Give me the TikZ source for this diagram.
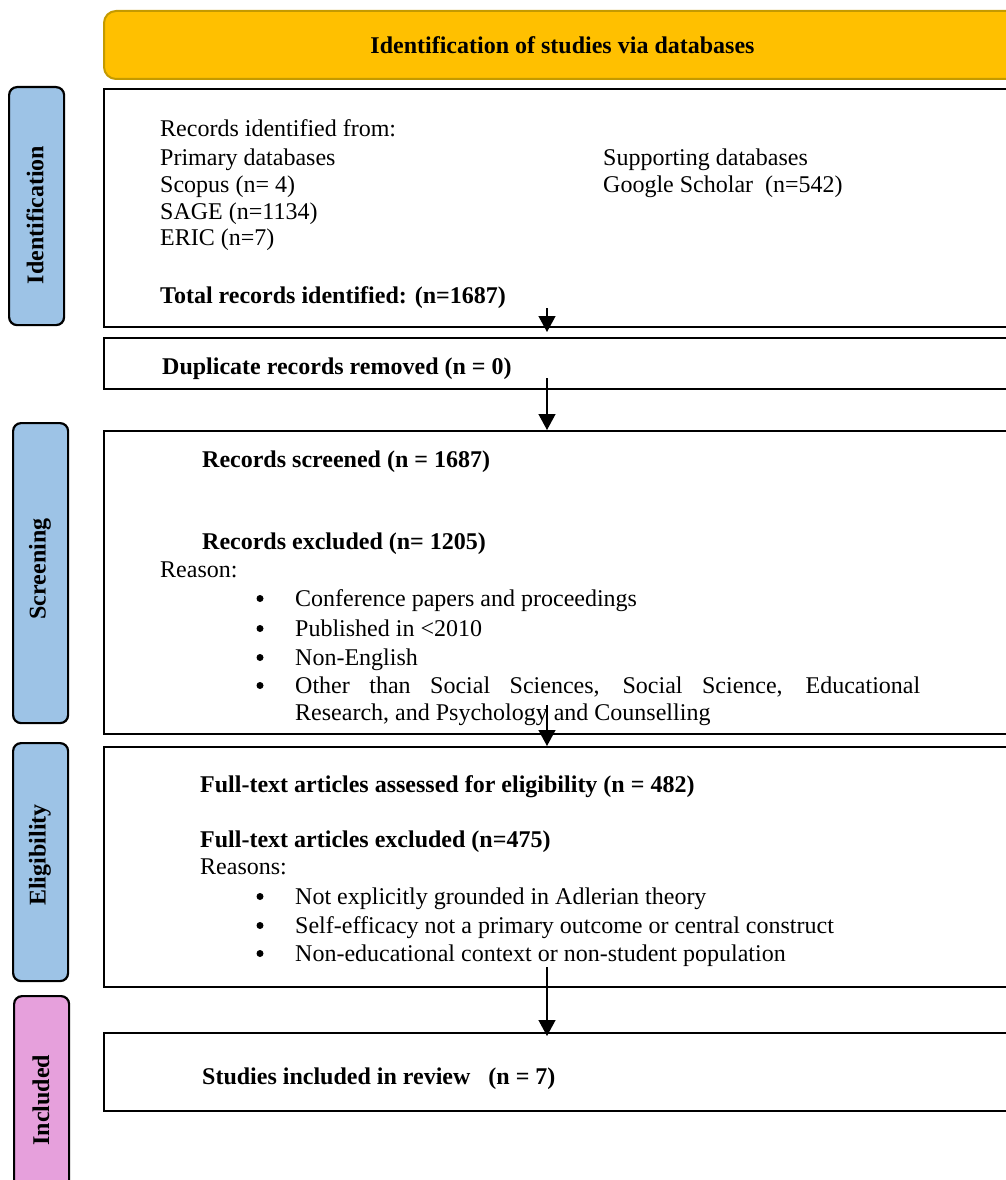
\documentclass[tikz,border=0pt]{standalone}
\usepackage{fontspec}
\setmainfont{Liberation Serif}
\usetikzlibrary{arrows.meta,positioning}
\definecolor{bannergold}{HTML}{FFC000}
\definecolor{bannerrand}{HTML}{C49A00}
\definecolor{phaseblau}{HTML}{9DC3E6}
\definecolor{phasepink}{HTML}{E6A0DC}
\tikzset{
  kasten/.style={draw, line width=2.4pt, anchor=north west, minimum width=917pt, inner sep=0pt},
  phase/.style={draw, line width=2.2pt, rounded corners=8pt, anchor=north west, minimum width=55pt, inner sep=0pt},
  phasetext/.style={rotate=90, inner sep=0pt, font=\fontsize{24}{28}\selectfont\bfseries},
  txt/.style={anchor=base west, inner sep=0pt, font=\fontsize{24}{28}\selectfont},
  btxt/.style={anchor=base west, inner sep=0pt, font=\fontsize{24}{28}\selectfont\bfseries},
  punkt/.style={circle, fill, inner sep=0pt, minimum size=7pt},
  pfeil/.style={line width=1.3pt, -{Triangle[width=17pt,length=16pt]}}
}
\begin{document}
\begin{tikzpicture}[x=1pt, y=-1pt]
  \useasboundingbox (0,0) rectangle (1006,1180);
  \clip (0,0) rectangle (1006,1180);

  % Kopfzeile
  \node[draw=bannerrand, fill=bannergold, line width=2pt, rounded corners=12pt, anchor=north west,
        minimum width=917pt, minimum height=68pt, font=\fontsize{24}{28}\selectfont\bfseries]
        (banner) at (103,10) {Identification of studies via databases};

  % Phasen links
  \node[phase, fill=phaseblau, minimum height=238pt] (pIdent) at (8,86) {};
  \node[phasetext] (tIdent) at (35,215) {Identification};
  \node[phase, fill=phaseblau, minimum height=300pt] (pScreen) at (12,422) {};
  \node[phasetext] (tScreen) at (40,569) {Screening};
  \node[phase, fill=phaseblau, minimum height=238pt] (pElig) at (12,742) {};
  \node[phasetext] (tElig) at (40,855) {Eligibility};
  \node[phase, fill=phasepink, minimum height=220pt] (pIncl) at (13,995) {};
  \node[phasetext] (tIncl) at (41,1100) {Included};

  % Kaesten
  \node[kasten, minimum height=238pt] (ident) at (103,88) {};
  \node[kasten, minimum height=51pt] (dupl) at (103,337) {};
  \node[kasten, minimum height=303pt] (screen) at (103,430) {};
  \node[kasten, minimum height=240pt] (elig) at (103,746) {};
  \node[kasten, minimum height=78pt] (incl) at (103,1032) {};

  \begin{scope}[shift={(0,2.5)}]
  % Identifikation
  \node[txt] (recFrom) at (160,134) {Records identified from:};
  \node[txt] (prim) at (160,163) {Primary databases};
  \node[txt] (scopus) at (160,190) {Scopus (n= 4)};
  \node[txt] (sage) at (160,217) {SAGE (n=1134)};
  \node[txt] (eric) at (160,243) {ERIC (n=7)};
  \node[txt] (supp) at (603,163) {Supporting databases};
  \node[txt] (scholar) at (603,190) {Google Scholar\ \ (n=542)};
  \node[btxt] (total) at (160,301) {Total records identified: (n=1687)};

  % Duplikate
  \node[btxt] (duplTxt) at (162,372) {Duplicate records removed (n = 0)};

  % Screening
  \node[btxt] (scrTxt) at (202,465) {Records screened (n = 1687)};
  \node[btxt] (exclTxt) at (202,547) {Records excluded (n= 1205)};
  \node[txt] (reason) at (160,575) {Reason:};
  \foreach \y/\t [count=\i] in {604/Conference papers and proceedings,
                                634/Published in <2010,
                                663/Non-English} {
    \node[punkt] (sb\i) at (260,\y-8) {};
    \node[txt] (sr\i) at (295,\y) {\t};
  }
  \node[punkt] (sb4) at (260,683) {};
  \node[txt] (sr4) at (295,691) {\makebox[625pt][s]{Other than Social Sciences, Social Science, Educational}};
  \node[txt] (sr5) at (295,718) {Research, and Psychology and Counselling};

  % Eignung
  \node[btxt] (assTxt) at (200,790) {Full-text articles assessed for eligibility (n = 482)};
  \node[btxt] (fexTxt) at (200,845) {Full-text articles excluded (n=475)};
  \node[txt] (reasons) at (200,872) {Reasons:};
  \foreach \y/\t [count=\i] in {902/Not explicitly grounded in Adlerian theory,
                                931/Self-efficacy not a primary outcome or central construct,
                                959/Non-educational context or non-student population} {
    \node[punkt] (eb\i) at (260,\y-8) {};
    \node[txt] (er\i) at (295,\y) {\t};
  }

  % Eingeschlossen
  \node[btxt] (inclTxt) at (202,1082) {Studies included in review\ \ \ (n = 7)};
  \end{scope}

  % Pfeile
  \coordinate (a1) at (547,308);
  \coordinate (a2) at (547,378);
  \coordinate (a3) at (547,705);
  \coordinate (a4) at (547,967);
  \draw[pfeil] (a1) -- ([yshift=5pt]a1 |- dupl.north);
  \draw[pfeil] (a2) -- (a2 |- screen.north);
  \draw[pfeil] (a3) -- (a3 |- elig.north);
  \draw[pfeil] (a4) -- ([yshift=-4pt]a4 |- incl.north);
\end{tikzpicture}
\end{document}
